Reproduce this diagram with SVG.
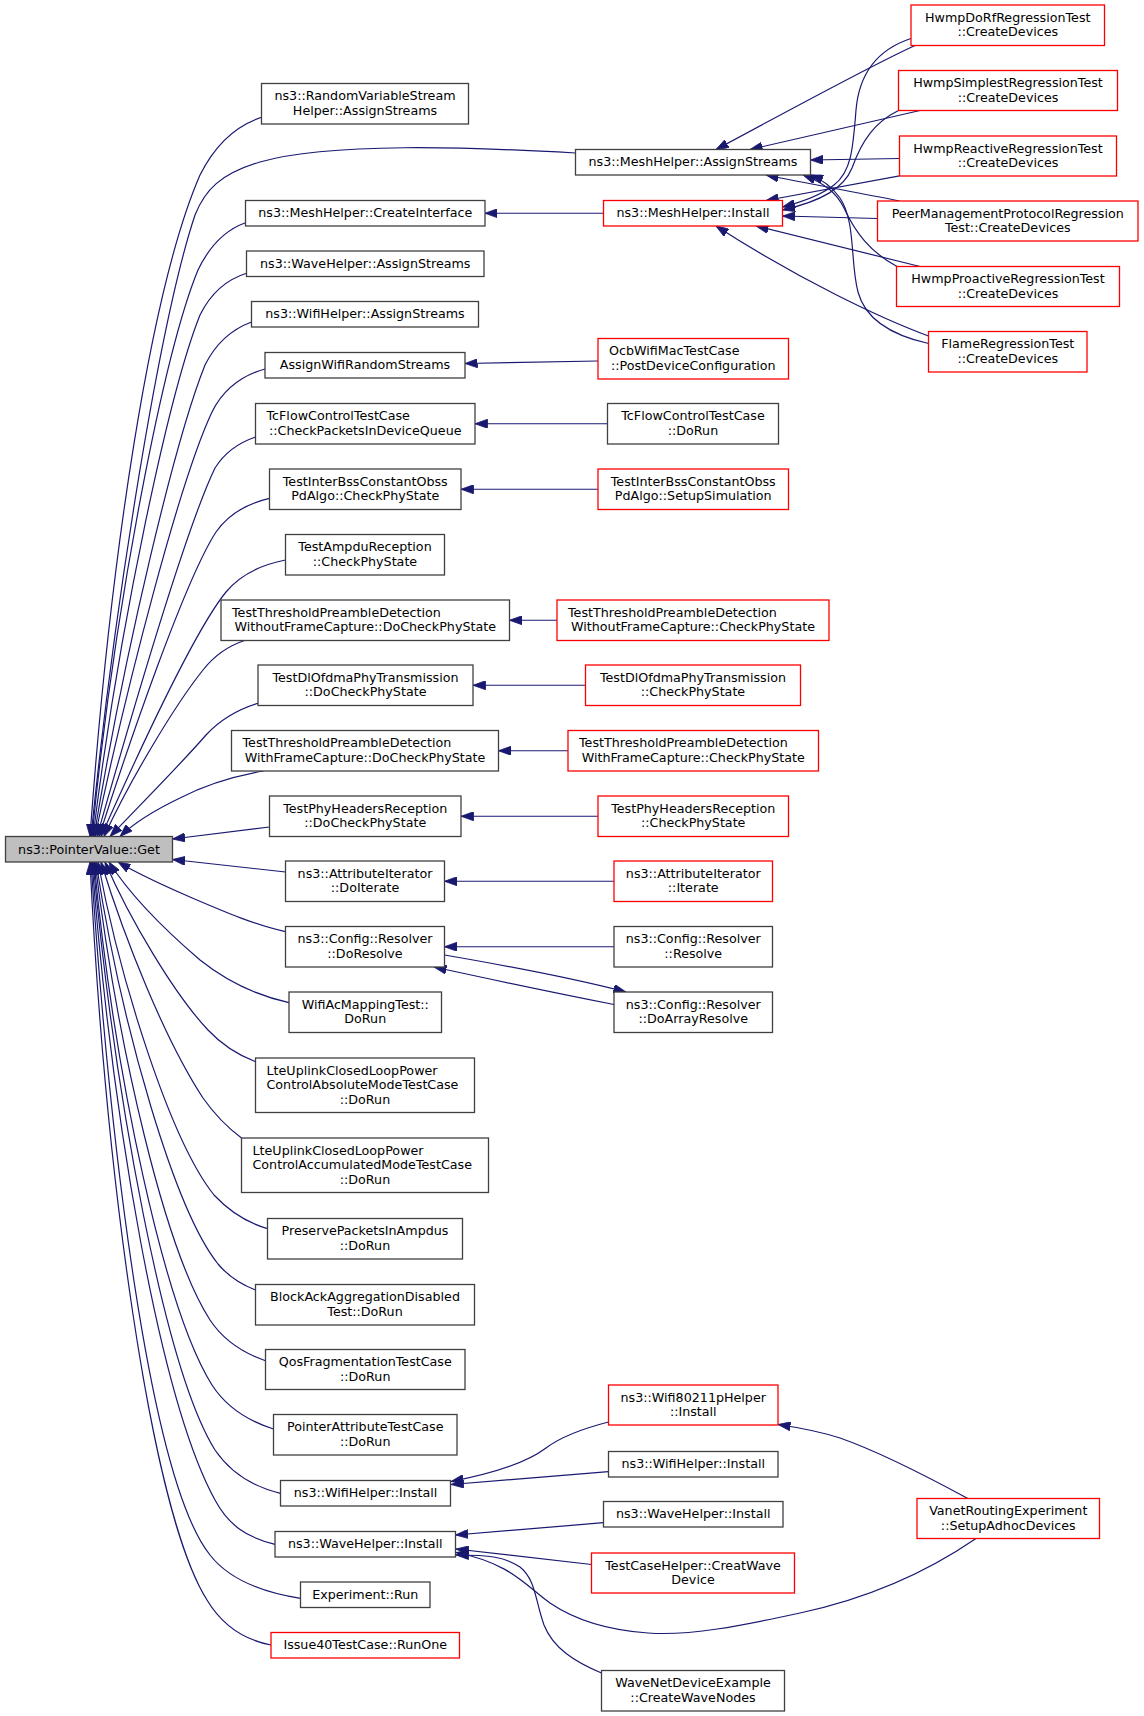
<svg xmlns="http://www.w3.org/2000/svg" width="1144" height="1716" viewBox="0 0 1144 1716">
<style>
.n rect{fill:#fff;stroke:#404040;stroke-width:1.3}
.n.r rect{stroke:#ff0000}
.n.g rect{fill:#bfbfbf}
text{font-family:"DejaVu Sans",sans-serif;font-size:12.7px;fill:#000;text-anchor:middle}
text.l{text-anchor:start}
#edges path{fill:none;stroke:#191970;stroke-width:1.2;marker-end:url(#ah)}
</style>
<defs>
<marker id="ah" viewBox="0 0 12.5 9" refX="12.5" refY="4.5" markerWidth="12.5" markerHeight="9" orient="auto" markerUnits="userSpaceOnUse"><path d="M0,0L12.5,4.5L0,9z" fill="#191970" stroke="#191970" stroke-width="0.8"/></marker>
</defs>
<rect x="0" y="0" width="1144" height="1716" fill="#fff"/>
<g id="edges">
<path d="M261.6,117.3 C235,126 215,145 200,175 C150,290 110,560 90,836.5"/>
<path d="M575.5,153 C470,147 330,142 260,162 C220,174 205,190 195,215 C160,320 115,600 91,836.5"/>
<path d="M245.5,222.7 C225,230 210,245 198,270 C165,350 115,600 92,836.5"/>
<path d="M246.5,273.3 C225,280 210,295 200,315 C170,390 120,620 93,836.5"/>
<path d="M251.5,322 C230,330 215,345 205,365 C175,440 125,650 94,836.5"/>
<path d="M265,369 C240,376 222,392 212,412 C180,480 128,680 95,836.5"/>
<path d="M255.5,437 C238,443 225,452 215,468 C185,530 130,720 97,836.5"/>
<path d="M269.5,498.3 C245,504 228,515 216,532 C185,580 130,740 99,836.5"/>
<path d="M285.5,560 C260,565 240,575 226,592 C195,630 135,760 101,836.5"/>
<path d="M244.5,640.5 C228,646 214,656 203,670 C175,705 130,780 104,836.5"/>
<path d="M258,703.3 C236,710 220,720 206,735 C180,765 140,805 110,836.5"/>
<path d="M263.4,771 C235,776 205,785 180,798 C155,810 135,822 120,836.5"/>
<path d="M269.5,827 L172.5,839"/>
<path d="M285.5,872 L172.5,859.5"/>
<path d="M285.5,931.7 C255,925 225,912 190,897 C160,884 135,872 118,862"/>
<path d="M289,1002.7 C255,995 225,980 200,960 C165,930 130,895 109,862"/>
<path d="M255.5,1061.7 C238,1055 222,1045 208,1030 C175,995 130,920 105,862"/>
<path d="M241.5,1138 C228,1128 215,1115 203,1098 C165,1040 125,940 101,862"/>
<path d="M267.5,1228.7 C245,1222 228,1210 214,1195 C170,1140 120,980 98,862"/>
<path d="M255.5,1290 C240,1284 228,1276 218,1264 C175,1210 122,1030 96,862"/>
<path d="M265.5,1360.7 C240,1352 222,1338 210,1320 C165,1250 118,1050 95,862"/>
<path d="M273.5,1429 C245,1420 225,1405 212,1385 C165,1310 115,1080 94,862"/>
<path d="M280.5,1493.3 C250,1486 230,1472 215,1450 C165,1370 115,1100 93,862"/>
<path d="M275,1544.3 C245,1537 228,1524 215,1500 C160,1400 112,1120 92,862"/>
<path d="M300.5,1598.3 C260,1592 228,1578 210,1555 C150,1480 110,1150 91,862"/>
<path d="M271,1645 C245,1640 222,1625 207,1600 C150,1510 105,1170 90,862"/>
<path d="M915,45.5 C870,66 790,110 716,149.5"/>
<path d="M920,110.5 C870,122 800,138 750,149.5"/>
<path d="M899.5,158.5 L810.5,160"/>
<path d="M899.5,201 C860,193 810,184 766,175"/>
<path d="M897,266.5 C870,252 855,232 844,208 C836,192 824,183 803,175"/>
<path d="M928.5,343.5 C895,336 866,322 858,292 C850,262 856,222 840,198 C832,187 824,180 810.5,175"/>
<path d="M911,38.5 C876,50 859,75 856,110 C853,150 851,172 834,185 C821,195 802,202 782.5,207"/>
<path d="M898.5,110.5 C875,122 862,140 852,168 C844,188 822,201 782.5,210"/>
<path d="M899.5,175.8 L766,200.5"/>
<path d="M877.5,218.5 L782.5,216"/>
<path d="M920,266.5 L756,226"/>
<path d="M928.5,336 C880,318 800,280 716,226"/>
<path d="M603.5,213.25 L484.9,213.25"/>
<path d="M598,361 L465,363.5"/>
<path d="M607.5,423.75 L475,423.75"/>
<path d="M598,489.25 L461,489.25"/>
<path d="M557,620.25 L509.5,620.25"/>
<path d="M585.5,685.25 L473,685.25"/>
<path d="M568,750.75 L498.5,750.75"/>
<path d="M598,816.25 L461,816.25"/>
<path d="M614,881.25 L444.5,881.25"/>
<path d="M614,946.75 L444.5,946.75"/>
<path d="M444.5,955 C520,968 580,980 626,992"/>
<path d="M614,1004.5 C540,990 480,977 434,967"/>
<path d="M608.5,1422 C585,1428 562,1436 546,1448 C525,1464 490,1474 451,1481.5"/>
<path d="M608.5,1471.7 L451,1484.5"/>
<path d="M603.5,1522.7 L455.5,1535"/>
<path d="M591.5,1564.5 L456,1549"/>
<path d="M976,1538.5 C930,1570 870,1598 800,1613 C740,1626 690,1636 648,1633 C605,1630 575,1620 550,1603 C525,1585 510,1563 456,1552.5"/>
<path d="M601.5,1673 C575,1662 553,1648 544,1625 C535,1600 536,1580 520,1567 C505,1557 490,1555 456,1555"/>
<path d="M967.8,1498.5 C930,1478 880,1452 840,1438 C815,1430 795,1427 778,1424.5"/>
</g>
<g id="get" class="n g"><rect x="5.5" y="836.5" width="167" height="25.5"/><text x="89" y="853.5">ns3::PointerValue::Get</text></g>
<g id="l1" class="n"><rect x="261.5" y="83.5" width="207" height="40.5"/><text x="365" y="100.45">ns3::RandomVariableStream</text><text x="365" y="114.95">Helper::AssignStreams</text></g>
<g id="l2" class="n"><rect x="245.5" y="200.5" width="239.5" height="25.5"/><text x="365.25" y="217.45">ns3::MeshHelper::CreateInterface</text></g>
<g id="l3" class="n"><rect x="246.5" y="251" width="237.5" height="25.5"/><text x="365.25" y="267.95">ns3::WaveHelper::AssignStreams</text></g>
<g id="l4" class="n"><rect x="251.5" y="301.5" width="227" height="25.5"/><text x="365" y="318.45">ns3::WifiHelper::AssignStreams</text></g>
<g id="l5" class="n"><rect x="265" y="352.5" width="200" height="25.5"/><text x="365" y="369.45">AssignWifiRandomStreams</text></g>
<g id="l6" class="n"><rect x="255.5" y="403.5" width="219.5" height="40.5"/><text class="l" x="266.5" y="420.45">TcFlowControlTestCase</text><text x="365.25" y="434.95">::CheckPacketsInDeviceQueue</text></g>
<g id="l7" class="n"><rect x="269.5" y="469" width="191.5" height="40.5"/><text x="365.25" y="485.95">TestInterBssConstantObss</text><text x="365.25" y="500.45">PdAlgo::CheckPhyState</text></g>
<g id="l8" class="n"><rect x="285.5" y="534.5" width="159" height="40.5"/><text x="365" y="551.45">TestAmpduReception</text><text x="365" y="565.95">::CheckPhyState</text></g>
<g id="l9" class="n"><rect x="221" y="600" width="288.5" height="40.5"/><text class="l" x="232" y="616.95">TestThresholdPreambleDetection</text><text x="365.25" y="631.45">WithoutFrameCapture::DoCheckPhyState</text></g>
<g id="l10" class="n"><rect x="258" y="665" width="215" height="40.5"/><text x="365.5" y="681.95">TestDlOfdmaPhyTransmission</text><text x="365.5" y="696.45">::DoCheckPhyState</text></g>
<g id="l11" class="n"><rect x="231.5" y="730.5" width="267" height="40.5"/><text class="l" x="242.5" y="747.45">TestThresholdPreambleDetection</text><text x="365" y="761.95">WithFrameCapture::DoCheckPhyState</text></g>
<g id="l12" class="n"><rect x="269.5" y="796" width="191.5" height="40.5"/><text x="365.25" y="812.95">TestPhyHeadersReception</text><text x="365.25" y="827.45">::DoCheckPhyState</text></g>
<g id="l13" class="n"><rect x="285.5" y="861" width="159" height="40.5"/><text x="365" y="877.95">ns3::AttributeIterator</text><text x="365" y="892.45">::DoIterate</text></g>
<g id="l14" class="n"><rect x="285.5" y="926.5" width="159" height="40.5"/><text x="365" y="943.45">ns3::Config::Resolver</text><text x="365" y="957.95">::DoResolve</text></g>
<g id="l15" class="n"><rect x="289" y="992" width="152.5" height="40.5"/><text x="365.25" y="1008.95">WifiAcMappingTest::</text><text x="365.25" y="1023.45">DoRun</text></g>
<g id="l16" class="n"><rect x="255.5" y="1058" width="219" height="54.5"/><text class="l" x="266.5" y="1074.95">LteUplinkClosedLoopPower</text><text class="l" x="266.5" y="1089.45">ControlAbsoluteModeTestCase</text><text x="365" y="1103.95">::DoRun</text></g>
<g id="l17" class="n"><rect x="241.5" y="1138" width="247" height="54.5"/><text class="l" x="252.5" y="1154.95">LteUplinkClosedLoopPower</text><text class="l" x="252.5" y="1169.45">ControlAccumulatedModeTestCase</text><text x="365" y="1183.95">::DoRun</text></g>
<g id="l18" class="n"><rect x="267.5" y="1218.5" width="195" height="40.5"/><text x="365" y="1235.45">PreservePacketsInAmpdus</text><text x="365" y="1249.95">::DoRun</text></g>
<g id="l19" class="n"><rect x="255.5" y="1284.5" width="219" height="40.5"/><text x="365" y="1301.45">BlockAckAggregationDisabled</text><text x="365" y="1315.95">Test::DoRun</text></g>
<g id="l20" class="n"><rect x="265.5" y="1349.5" width="199.5" height="40"/><text x="365.25" y="1366.2">QosFragmentationTestCase</text><text x="365.25" y="1380.7">::DoRun</text></g>
<g id="l21" class="n"><rect x="273.5" y="1414.5" width="183.5" height="40.5"/><text x="365.25" y="1431.45">PointerAttributeTestCase</text><text x="365.25" y="1445.95">::DoRun</text></g>
<g id="l22" class="n"><rect x="280.5" y="1480.5" width="170" height="25.5"/><text x="365.5" y="1497.45">ns3::WifiHelper::Install</text></g>
<g id="l23" class="n"><rect x="275" y="1531.5" width="180.5" height="25.5"/><text x="365.25" y="1548.45">ns3::WaveHelper::Install</text></g>
<g id="l24" class="n"><rect x="300.5" y="1582" width="129.5" height="25.5"/><text x="365.25" y="1598.95">Experiment::Run</text></g>
<g id="l25" class="n r"><rect x="271" y="1632.5" width="188.5" height="25.5"/><text x="365.25" y="1649.45">Issue40TestCase::RunOne</text></g>
<g id="m1" class="n"><rect x="575.5" y="149.5" width="235" height="25.5"/><text x="693" y="166.45">ns3::MeshHelper::AssignStreams</text></g>
<g id="m2" class="n r"><rect x="603.5" y="200.5" width="179" height="25.5"/><text x="693" y="217.45">ns3::MeshHelper::Install</text></g>
<g id="m3" class="n r"><rect x="598" y="338.5" width="190.5" height="40.5"/><text class="l" x="609" y="355.45">OcbWifiMacTestCase</text><text x="693.25" y="369.95">::PostDeviceConfiguration</text></g>
<g id="m4" class="n"><rect x="607.5" y="403.5" width="171" height="40.5"/><text x="693" y="420.45">TcFlowControlTestCase</text><text x="693" y="434.95">::DoRun</text></g>
<g id="m5" class="n r"><rect x="598" y="469" width="190.5" height="40.5"/><text x="693.25" y="485.95">TestInterBssConstantObss</text><text x="693.25" y="500.45">PdAlgo::SetupSimulation</text></g>
<g id="m6" class="n r"><rect x="557" y="600" width="272" height="40.5"/><text class="l" x="568" y="616.95">TestThresholdPreambleDetection</text><text x="693" y="631.45">WithoutFrameCapture::CheckPhyState</text></g>
<g id="m7" class="n r"><rect x="585.5" y="665" width="215" height="40.5"/><text x="693" y="681.95">TestDlOfdmaPhyTransmission</text><text x="693" y="696.45">::CheckPhyState</text></g>
<g id="m8" class="n r"><rect x="568" y="730.5" width="250.5" height="40.5"/><text class="l" x="579" y="747.45">TestThresholdPreambleDetection</text><text x="693.25" y="761.95">WithFrameCapture::CheckPhyState</text></g>
<g id="m9" class="n r"><rect x="598" y="796" width="190.5" height="40.5"/><text x="693.25" y="812.95">TestPhyHeadersReception</text><text x="693.25" y="827.45">::CheckPhyState</text></g>
<g id="m10" class="n r"><rect x="614" y="861" width="158.5" height="40.5"/><text x="693.25" y="877.95">ns3::AttributeIterator</text><text x="693.25" y="892.45">::Iterate</text></g>
<g id="m11" class="n"><rect x="614" y="926.5" width="158.5" height="40.5"/><text x="693.25" y="943.45">ns3::Config::Resolver</text><text x="693.25" y="957.95">::Resolve</text></g>
<g id="m12" class="n"><rect x="614" y="992" width="158.5" height="40.5"/><text x="693.25" y="1008.95">ns3::Config::Resolver</text><text x="693.25" y="1023.45">::DoArrayResolve</text></g>
<g id="m13" class="n r"><rect x="608.5" y="1385" width="169.5" height="40"/><text x="693.25" y="1401.7">ns3::Wifi80211pHelper</text><text x="693.25" y="1416.2">::Install</text></g>
<g id="m14" class="n"><rect x="608.5" y="1451.5" width="169.5" height="25.5"/><text x="693.25" y="1468.45">ns3::WifiHelper::Install</text></g>
<g id="m15" class="n"><rect x="603.5" y="1501.5" width="179.5" height="25.5"/><text x="693.25" y="1518.45">ns3::WaveHelper::Install</text></g>
<g id="m16" class="n r"><rect x="591.5" y="1553" width="203" height="40"/><text x="693" y="1569.7">TestCaseHelper::CreatWave</text><text x="693" y="1584.2">Device</text></g>
<g id="m17" class="n"><rect x="601.5" y="1670.5" width="183" height="40.5"/><text x="693" y="1687.45">WaveNetDeviceExample</text><text x="693" y="1701.95">::CreateWaveNodes</text></g>
<g id="r1" class="n r"><rect x="911" y="5" width="193.5" height="40.5"/><text x="1007.75" y="21.95">HwmpDoRfRegressionTest</text><text x="1007.75" y="36.45">::CreateDevices</text></g>
<g id="r2" class="n r"><rect x="898.5" y="70.5" width="219" height="40"/><text x="1008" y="87.2">HwmpSimplestRegressionTest</text><text x="1008" y="101.7">::CreateDevices</text></g>
<g id="r3" class="n r"><rect x="899.5" y="136" width="217" height="40"/><text x="1008" y="152.7">HwmpReactiveRegressionTest</text><text x="1008" y="167.2">::CreateDevices</text></g>
<g id="r4" class="n r"><rect x="877.5" y="201" width="260.5" height="40"/><text x="1007.75" y="217.7">PeerManagementProtocolRegression</text><text x="1007.75" y="232.2">Test::CreateDevices</text></g>
<g id="r5" class="n r"><rect x="896.5" y="266.5" width="223" height="40"/><text x="1008" y="283.2">HwmpProactiveRegressionTest</text><text x="1008" y="297.7">::CreateDevices</text></g>
<g id="r6" class="n r"><rect x="928.5" y="331.5" width="158.5" height="40.5"/><text x="1007.75" y="348.45">FlameRegressionTest</text><text x="1007.75" y="362.95">::CreateDevices</text></g>
<g id="r7" class="n r"><rect x="917" y="1498.5" width="182.5" height="40"/><text x="1008.25" y="1515.2">VanetRoutingExperiment</text><text x="1008.25" y="1529.7">::SetupAdhocDevices</text></g>
</svg>
